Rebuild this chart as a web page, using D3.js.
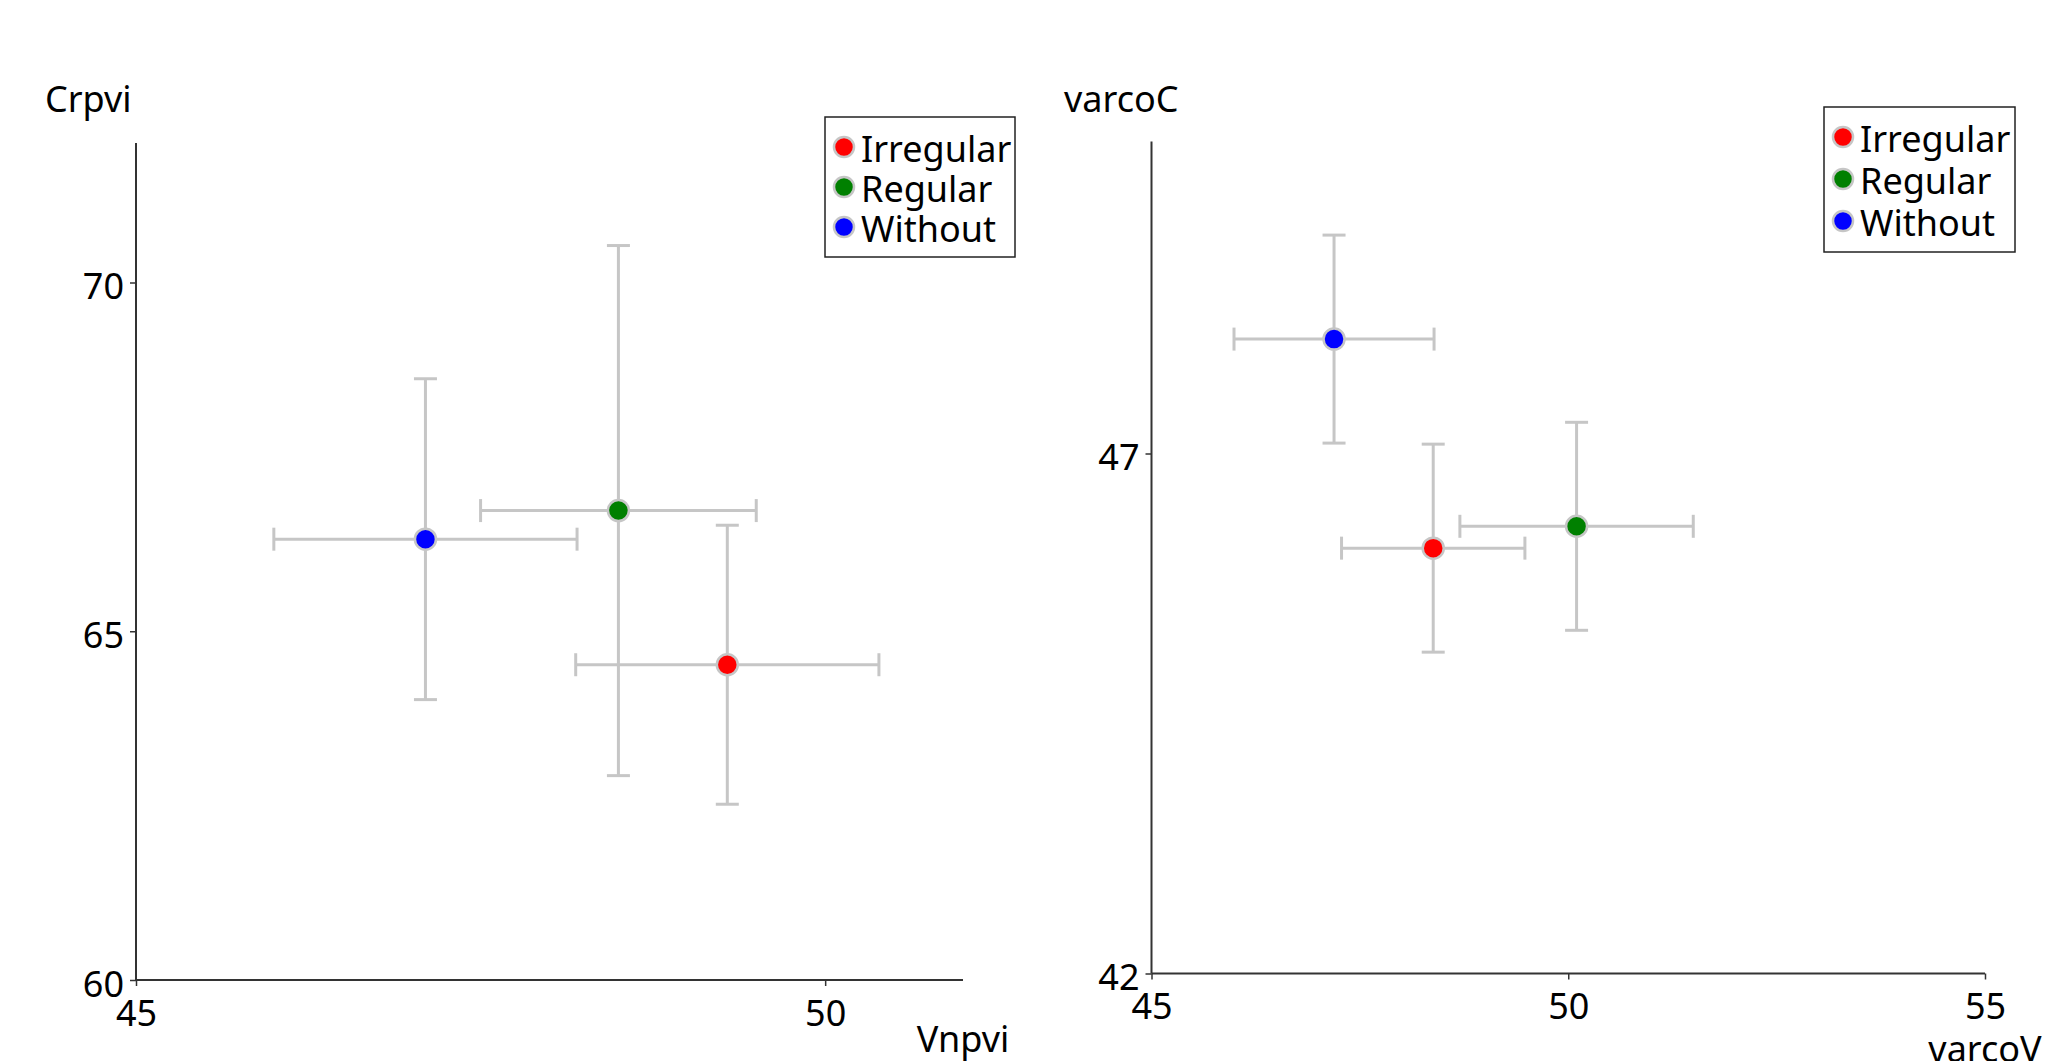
<!DOCTYPE html>
<html>
<head>
<meta charset="utf-8">
<script src="https://cdn.jsdelivr.net/npm/d3@7"></script>
<style>
  html, body { margin: 0; padding: 0; background: #fff; overflow: hidden; }
  svg { display: block; font-family: "Noto Sans", "Open Sans", sans-serif; }
</style>
</head>
<body>
<svg id="chart" width="2072" height="1061"></svg>
<script>
// ---- data ----
const groups = ["Irregular", "Regular", "Without"];
const groupColors = ["#ff0000", "#008000", "#0000ff"];

// Left panel: Vnpvi (x) vs Crpvi (y)
const vnpviMean = [49.29, 48.50, 47.10];
const vnpviErr  = [1.10, 1.00, 1.10];
const crpviMean = [64.52, 66.73, 66.32];
const crpviErr  = [2.00, 3.80, 2.30];

// Right panel: varcoV (x) vs varcoC (y)
const varcoVMean = [48.38, 50.10, 47.19];
const varcoVErr  = [1.10, 1.40, 1.20];
const varcoCMean = [46.09, 46.30, 48.10];
const varcoCErr  = [1.00, 1.00, 1.00];

const leftXTicks = [45, 50];
const leftYTicks = [60, 65, 70];
const rightXTicks = [45, 50, 55];
const rightYTicks = [42, 47];

// ---- drawing ----
const svg = d3.select("#chart");
const FONT = 36;
const errColor = "#c6c6c6";
const axisColor = "#333";

function panel(cfg) {
  const x = d3.scaleLinear().domain(cfg.xDomain).range(cfg.xRange);
  const y = d3.scaleLinear().domain(cfg.yDomain).range(cfg.yRange);
  const g = svg.append("g");

  const xAxis = d3.axisBottom(x).tickValues(cfg.xTicks).tickSize(6).tickPadding(14).tickFormat(d3.format("d"));
  const yAxis = d3.axisLeft(y).tickValues(cfg.yTicks).tickSize(6).tickPadding(6).tickFormat(d3.format("d"));

  const gx = g.append("g").attr("transform", `translate(0,${cfg.yRange[0]})`).call(xAxis);
  const gy = g.append("g").attr("transform", `translate(${cfg.xRange[0]},0)`).call(yAxis);
  [gx, gy].forEach(a => {
    a.select(".domain").attr("stroke", axisColor).attr("stroke-width", 2);
    a.selectAll(".tick line").attr("stroke", axisColor).attr("stroke-width", 1.5);
    a.selectAll(".tick text").attr("fill", "#000").attr("font-size", FONT)
      .attr("font-family", "'Noto Sans', sans-serif");
  });
  gx.select(".domain").attr("d", `M${cfg.xRange[0]},0H${cfg.xRange[1]}`);
  gy.select(".domain").attr("d", `M0,${cfg.yRange[1]}V${cfg.yRange[0]}`);
  gx.selectAll(".tick text").attr("dy", "0.71em");
  gy.selectAll(".tick text").attr("dy", "0.45em");

  g.append("text").attr("x", cfg.yTitlePos[0]).attr("y", cfg.yTitlePos[1])
    .attr("font-size", FONT).attr("fill", "#000").text(cfg.yTitle);
  g.append("text").attr("x", cfg.xTitlePos[0]).attr("y", cfg.xTitlePos[1])
    .attr("text-anchor", "middle").attr("font-size", FONT).attr("fill", "#000").text(cfg.xTitle);

  const data = groups.map((name, i) => ({
    name, color: groupColors[i],
    x: cfg.xMean[i], xe: cfg.xErr[i], y: cfg.yMean[i], ye: cfg.yErr[i]
  }));
  const cap = 11.5;

  const eb = g.append("g").attr("stroke", errColor).attr("stroke-width", 3).attr("fill", "none");
  data.forEach(d => {
    const cx = x(d.x), cy = y(d.y);
    const x0 = x(d.x - d.xe), x1 = x(d.x + d.xe);
    const y0 = y(d.y - d.ye), y1 = y(d.y + d.ye);
    eb.append("line").attr("x1", x0).attr("x2", x1).attr("y1", cy).attr("y2", cy);
    eb.append("line").attr("x1", x0).attr("x2", x0).attr("y1", cy - cap).attr("y2", cy + cap);
    eb.append("line").attr("x1", x1).attr("x2", x1).attr("y1", cy - cap).attr("y2", cy + cap);
    eb.append("line").attr("x1", cx).attr("x2", cx).attr("y1", y0).attr("y2", y1);
    eb.append("line").attr("x1", cx - cap).attr("x2", cx + cap).attr("y1", y0).attr("y2", y0);
    eb.append("line").attr("x1", cx - cap).attr("x2", cx + cap).attr("y1", y1).attr("y2", y1);
  });

  g.append("g").selectAll("circle").data(data).join("circle")
    .attr("cx", d => x(d.x)).attr("cy", d => y(d.y)).attr("r", 10.5)
    .attr("fill", d => d.color).attr("stroke", errColor).attr("stroke-width", 2.5);

  const L = cfg.legend;
  const lg = g.append("g").attr("transform", `translate(${L.x},${L.y})`);
  lg.append("rect").attr("width", L.w).attr("height", L.h)
    .attr("fill", "#fff").attr("stroke", "#222").attr("stroke-width", 1.5);
  data.forEach((d, i) => {
    const cy = L.first + i * L.step;
    lg.append("circle").attr("cx", 19).attr("cy", cy).attr("r", 10)
      .attr("fill", d.color).attr("stroke", errColor).attr("stroke-width", 2.5);
    lg.append("text").attr("x", 36).attr("y", cy).attr("dy", "0.43em")
      .attr("font-size", FONT).attr("fill", "#000").text(d.name);
  });
}

panel({
  xDomain: [45, 51], xRange: [136, 963],
  yDomain: [60, 72], yRange: [980, 143],
  xTicks: leftXTicks, yTicks: leftYTicks,
  xMean: vnpviMean, xErr: vnpviErr, yMean: crpviMean, yErr: crpviErr,
  yTitle: "Crpvi", yTitlePos: [45, 112],
  xTitle: "Vnpvi", xTitlePos: [963, 1052],
  legend: { x: 825, y: 117, w: 190, h: 140, first: 30, step: 40 }
});

panel({
  xDomain: [45, 55], xRange: [1151.5, 1985],
  yDomain: [42, 50], yRange: [973.5, 141.5],
  xTicks: rightXTicks, yTicks: rightYTicks,
  xMean: varcoVMean, xErr: varcoVErr, yMean: varcoCMean, yErr: varcoCErr,
  yTitle: "varcoC", yTitlePos: [1064, 112],
  xTitle: "varcoV", xTitlePos: [1985, 1062],
  legend: { x: 1824, y: 107, w: 191, h: 145, first: 30, step: 42 }
});
</script>
</body>
</html>
